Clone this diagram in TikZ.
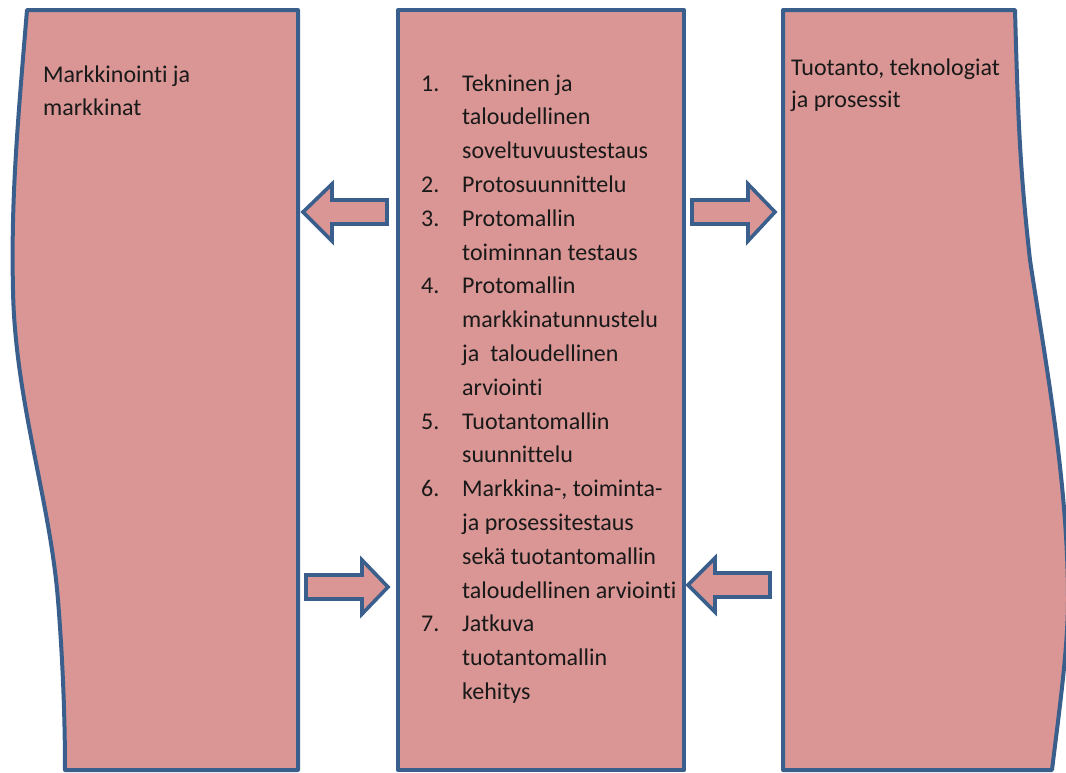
\documentclass[tikz,border=0pt]{standalone}
\usepackage{fontspec}
\setmainfont{Carlito}[Ligatures={NoCommon}]
\definecolor{panelfill}{HTML}{D99694}
\definecolor{panelline}{HTML}{3A5F8D}
\tikzset{
  panel/.style={fill=panelfill, draw=panelline, line width=4pt, line join=round},
  blockarrow/.style={fill=panelfill, draw=panelline, line width=3.6pt, line join=miter},
  txt/.style={anchor=base west, inner sep=0pt, text=black!90, font=\fontsize{24}{30}\selectfont},
}
\begin{document}
\begin{tikzpicture}[x=1pt, y=-1pt]
  \path[use as bounding box, clip] (0,0) rectangle (1066,772);

  % left panel with a wavy outer edge
  \path[panel] (27,10) -- (298,10) -- (298,770) -- (65,770)
    .. controls (65,710) and (62,650) .. (58,600)
    .. controls (50,500) and (15,400) .. (13,290)
    .. controls (11,200) and (17,130) .. (27,10) -- cycle;

  % centre panel
  \path[panel] (398,10) rectangle (684,770);

  % right panel with a wavy outer edge
  \path[panel] (783,10) -- (1015,10)
    .. controls (1018,120) and (1020,170) .. (1030,260)
    .. controls (1045,360) and (1068,480) .. (1068,600)
    .. controls (1068,650) and (1058,720) .. (1052,770)
    -- (783,770) -- cycle;

  % block arrows between the panels
  \path[blockarrow] (387,200) -- (332,200) -- (332,184) -- (303,212)
    -- (332,241) -- (332,224) -- (387,224) -- cycle;
  \path[blockarrow] (692,200) -- (748,200) -- (748,184) -- (775,212)
    -- (748,241) -- (748,224) -- (692,224) -- cycle;
  \path[blockarrow] (306,575) -- (362,575) -- (362,560) -- (388,587)
    -- (362,614) -- (362,599) -- (306,599) -- cycle;
  \path[blockarrow] (770,573) -- (715,573) -- (715,558) -- (688,585)
    -- (715,612) -- (715,597) -- (770,597) -- cycle;

  % panel headings
  \node[txt] (lefta) at (43,82) {Markkinointi ja};
  \node[txt] (leftb) at (43,115) {markkinat};
  \node[txt] (righta) at (791,75) {Tuotanto, teknologiat};
  \node[txt] (rightb) at (791,107) {ja prosessit};

  % numbered list in the centre panel
  \foreach \t [count=\i from 0] in {Tekninen ja, taloudellinen, soveltuvuustestaus,
      Protosuunnittelu, Protomallin, toiminnan testaus, Protomallin,
      markkinatunnustelu, {ja\ \ taloudellinen}, arviointi, Tuotantomallin,
      suunnittelu, {Markkina-, toiminta-}, ja prosessitestaus,
      sekä tuotantomallin, taloudellinen arviointi, Jatkuva, tuotantomallin, kehitys}
    \node[txt] (line\i) at (462,{91+\i*33.8}) {\t};

  \foreach \n/\i in {1/0, 2/3, 3/4, 4/6, 5/10, 6/12, 7/16}
    \node[txt] (num\n) at (421,{91+\i*33.8}) {\n.};
\end{tikzpicture}
\end{document}
